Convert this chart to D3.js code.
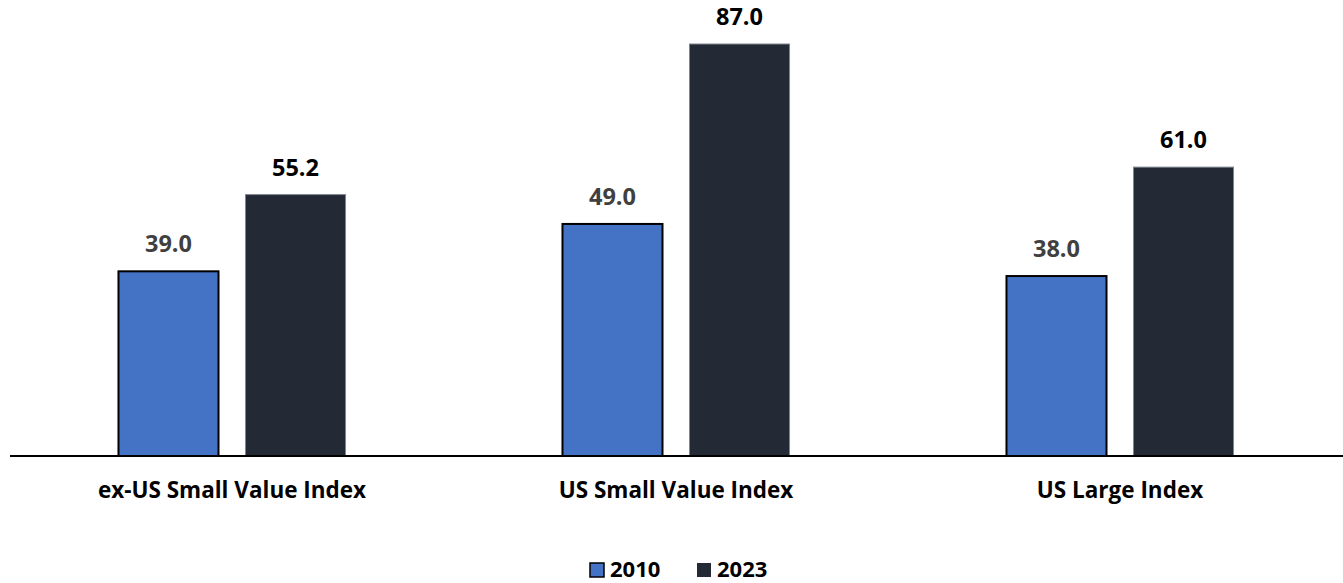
<!DOCTYPE html>
<html>
<head>
<meta charset="utf-8">
<script src="https://cdn.jsdelivr.net/npm/d3@7"></script>
<style>
  body { margin: 0; background: #fff; }
  svg { display: block; font-family: "Open Sans", Lato, sans-serif; font-weight: bold; }
</style>
</head>
<body>
<div id="chart"></div>
<script>
// data
const categories = ["ex-US Small Value Index", "US Small Value Index", "US Large Index"]
const seriesNames = ["2010", "2023"]
const values2010 = [39.0, 49.0, 38.0]
const values2023 = [55.2, 87.0, 61.0]

const width = 1343, height = 583
const baseline = 456

const colors = { "2010": "#4472C4", "2023": "#242A35" }
const strokes = { "2010": "#000000", "2023": "#7f858e" }
const labelColors = { "2010": "#404040", "2023": "#000000" }

const data = categories.map((c, i) => ({
  category: c,
  "2010": values2010[i],
  "2023": values2023[i]
}))

const svg = d3.select("#chart")
  .append("svg")
    .attr("width", width)
    .attr("height", height)

// scales
const x0 = d3.scaleBand()
  .domain(categories)
  .range([10, 1342])
  .padding(0)

const x1 = d3.scaleBand()
  .domain(seriesNames)
  .range([0, x0.bandwidth()])
  .paddingInner(0.2126)
  .paddingOuter(0.854)

const y = d3.scaleLinear()
  .domain([0, 87])
  .range([baseline, 44])

// bars
const groups = svg.selectAll("g.group")
  .data(data)
  .join("g")
    .attr("class", "group")
    .attr("transform", d => `translate(${x0(d.category)},0)`)

groups.selectAll("rect")
  .data(d => seriesNames.map(k => ({ key: k, value: d[k] })))
  .join("rect")
    .attr("x", d => x1(d.key))
    .attr("y", d => y(d.value))
    .attr("width", x1.bandwidth())
    .attr("height", d => baseline - y(d.value))
    .attr("fill", d => colors[d.key])
    .attr("stroke", d => strokes[d.key])
    .attr("stroke-width", d => d.key === "2010" ? 2 : 1)

// value labels
groups.selectAll("text.value")
  .data(d => seriesNames.map(k => ({ key: k, value: d[k] })))
  .join("text")
    .attr("class", "value")
    .attr("x", d => x1(d.key) + x1.bandwidth() / 2)
    .attr("y", d => y(d.value) - 19)
    .attr("text-anchor", "middle")
    .attr("font-size", 23.5)
    .attr("fill", d => labelColors[d.key])
    .text(d => d.value.toFixed(1))

// x axis line
svg.append("line")
  .attr("x1", 10)
  .attr("x2", width)
  .attr("y1", baseline)
  .attr("y2", baseline)
  .attr("stroke", "#000")
  .attr("stroke-width", 2)

// category labels
svg.selectAll("text.cat")
  .data(categories)
  .join("text")
    .attr("class", "cat")
    .attr("x", d => x0(d) + x0.bandwidth() / 2)
    .attr("y", 498)
    .attr("text-anchor", "middle")
    .attr("font-size", 22.5)
    .attr("fill", "#000")
    .text(d => d)

// legend
const legend = svg.append("g")
  .attr("transform", "translate(590,563)")

const legendItems = legend.selectAll("g")
  .data(seriesNames)
  .join("g")
    .attr("transform", (d, i) => `translate(${i * 107},0)`)

legendItems.append("rect")
  .attr("width", 14)
  .attr("height", 14)
  .attr("fill", d => colors[d])
  .attr("stroke", d => d === "2010" ? "#000" : "none")
  .attr("stroke-width", 1.5)

legendItems.append("text")
  .attr("x", 20)
  .attr("y", 14)
  .attr("font-size", 22)
  .attr("fill", "#000")
  .text(d => d)
</script>
</body>
</html>
